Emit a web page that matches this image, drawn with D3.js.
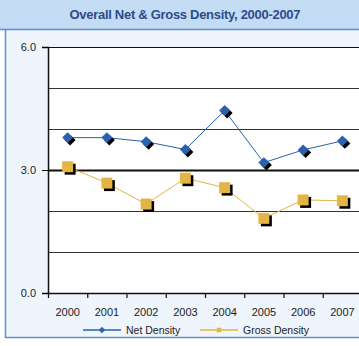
<!DOCTYPE html>
<html>
<head>
<meta charset="utf-8">
<script src="https://cdn.jsdelivr.net/npm/d3@7"></script>
<style>
  body { margin: 0; background: #fff; }
  svg { display: block; font-family: "Liberation Sans", Arial, sans-serif; }
</style>
</head>
<body>
<div id="chart"></div>
<script>
// data
const years = ["2000", "2001", "2002", "2003", "2004", "2005", "2006", "2007"];
const netDensity = [3.79, 3.79, 3.69, 3.50, 4.45, 3.18, 3.49, 3.71];
const grossDensity = [3.08, 2.68, 2.17, 2.80, 2.57, 1.82, 2.27, 2.25];
const yTicks = [0, 3, 6];
const yGrid = [1, 2, 3, 4, 5, 6];

const W = 359, H = 346;
const plot = {left: 48, top: 47, right: 362, bottom: 293};

const svg = d3.select("#chart").append("svg")
    .attr("width", W)
    .attr("height", H);

// panel + title bar
svg.append("rect").attr("x", 0).attr("y", 0).attr("width", W).attr("height", H).attr("fill", "#fff");
svg.append("rect").attr("x", 5.5).attr("y", 0).attr("width", W + 10).attr("height", 337.5)
    .attr("fill", "#eef5fd").attr("stroke", "#5b8fd4").attr("stroke-width", 1.5);
svg.append("rect").attr("x", 0).attr("y", 0).attr("width", W).attr("height", 29)
    .attr("fill", "#c4dbf4");
svg.append("line").attr("x1", 0).attr("x2", W).attr("y1", 29.5).attr("y2", 29.5)
    .attr("stroke", "#5b8fd4").attr("stroke-width", 1.5);
svg.append("text")
    .attr("x", 185).attr("y", 19)
    .attr("text-anchor", "middle")
    .attr("font-size", "13px")
    .attr("font-weight", "bold")
    .attr("fill", "#2b4c8a")
    .attr("textLength", 231)
    .text("Overall Net & Gross Density, 2000-2007");

// scales
const x = d3.scaleBand().domain(years).range([plot.left, plot.right]);
const y = d3.scaleLinear().domain([0, 6]).range([plot.bottom, plot.top]);
const cx = d => x(d) + x.bandwidth() / 2;

svg.append("rect")
    .attr("x", plot.left).attr("y", plot.top)
    .attr("width", plot.right - plot.left).attr("height", plot.bottom - plot.top)
    .attr("fill", "#fff");

// gridlines
svg.append("g").selectAll("line")
    .data(yGrid)
    .enter().append("line")
    .attr("x1", plot.left).attr("x2", plot.right)
    .attr("y1", d => Math.round(y(d)) + 0.5).attr("y2", d => Math.round(y(d)) + 0.5)
    .attr("stroke", d => d === 3 || d === 6 ? "#111" : "#333")
    .attr("stroke-width", d => d === 3 ? 2 : 1.2);

// axes
const yAxis = svg.append("g")
    .attr("transform", `translate(${plot.left},0)`)
    .call(d3.axisLeft(y).tickValues(yTicks).tickFormat(d3.format(".1f")).tickSize(6).tickPadding(6));
yAxis.select(".domain").attr("stroke", "#111").attr("stroke-width", 1.5);
yAxis.selectAll("text").attr("font-size", "11px").attr("fill", "#222");

const xAxis = svg.append("g")
    .attr("transform", `translate(0,${plot.bottom})`)
    .call(d3.axisBottom(x).tickSize(0).tickPadding(15));
xAxis.select(".domain").attr("stroke", "#111").attr("stroke-width", 1.5);
xAxis.selectAll("text").attr("font-size", "11px").attr("fill", "#222");
// category boundary ticks
svg.append("g").selectAll("line")
    .data(years)
    .enter().append("line")
    .attr("x1", d => x(d) + 0.5).attr("x2", d => x(d) + 0.5)
    .attr("y1", plot.bottom).attr("y2", plot.bottom + 5)
    .attr("stroke", "#111").attr("stroke-width", 1.2);

// series
const line = d3.line().x((d, i) => cx(years[i])).y(d => y(d));

function drawSeries(values, color, size, rot) {
    svg.append("path")
        .datum(values)
        .attr("fill", "none")
        .attr("stroke", color)
        .attr("stroke-width", 1)
        .attr("d", line);
    const sym = d3.symbol().type(d3.symbolSquare).size(size);
    const g = svg.append("g");
    const r = rot ? " rotate(45)" : "";
    // shadow
    g.selectAll(".shadow")
        .data(values)
        .enter().append("path")
        .attr("d", sym)
        .attr("fill", "#000")
        .attr("transform", (d, i) => `translate(${cx(years[i]) + 2.5},${y(d) + 2.5})` + r);
    g.selectAll(".mark")
        .data(values)
        .enter().append("path")
        .attr("d", sym)
        .attr("fill", color)
        .attr("transform", (d, i) => `translate(${cx(years[i])},${y(d)})` + r);
}

drawSeries(netDensity, "#2a62ad", 60, true);
drawSeries(grossDensity, "#e3b545", 120, false);

// legend
const legend = [
    {name: "Net Density", color: "#2a62ad", x: 83, rot: true},
    {name: "Gross Density", color: "#e3b545", x: 200, rot: false}
];
const lg = svg.append("g").selectAll("g").data(legend).enter().append("g")
    .attr("transform", d => `translate(${d.x},330)`);
lg.append("line").attr("x1", 0).attr("x2", 38).attr("stroke", d => d.color).attr("stroke-width", 1.5);
lg.append("path")
    .attr("d", d3.symbol().type(d3.symbolSquare).size(20))
    .attr("transform", d => `translate(19,0)` + (d.rot ? " rotate(45)" : ""))
    .attr("fill", d => d.color);
lg.append("text").attr("x", 43).attr("y", 4)
    .attr("font-size", "10.5px").attr("fill", "#222")
    .text(d => d.name);
</script>
</body>
</html>
